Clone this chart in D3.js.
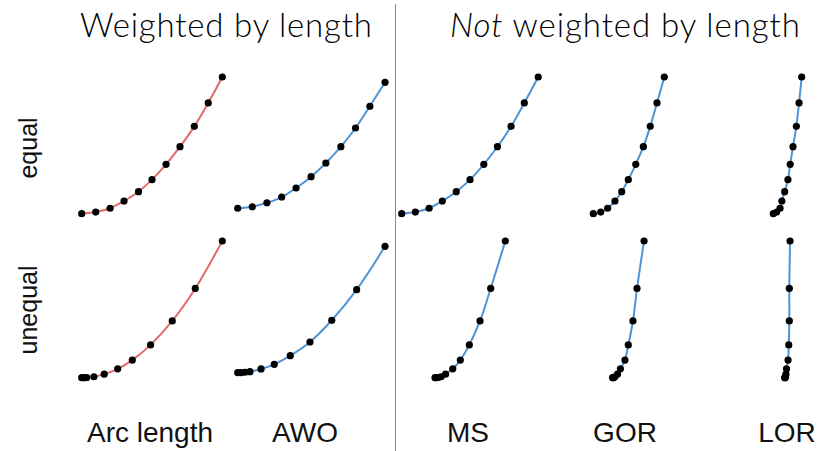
<!DOCTYPE html>
<html>
<head>
<meta charset="utf-8">
<script src="https://cdn.jsdelivr.net/npm/d3@7"></script>
<style>
  html, body { margin: 0; padding: 0; background: #fff; }
  svg { display: block; }
</style>
</head>
<body>
<svg id="chart" width="821" height="451"></svg>
<script>
// Parametrisations of the same curve, sampled 11 times per panel.
// x values are fractions of a column width, y values fractions of a row height.
const methods = ["Arc length", "AWO", "MS", "GOR", "LOR"];
const rowLabels = ["equal", "unequal"];
const groupTitles = ["Weighted by length", "weighted by length"];

// equal spacing
const equalY      = [0, 0.012, 0.040, 0.093, 0.161, 0.249, 0.361, 0.490, 0.639, 0.810, 1];
const awoEqualY   = [0.040, 0.051, 0.080, 0.122, 0.188, 0.271, 0.371, 0.490, 0.627, 0.786, 0.961];
const arcEqualX   = [0, 0.100, 0.202, 0.301, 0.404, 0.500, 0.600, 0.699, 0.801, 0.900, 1];
const awoEqualX   = [0, 0.104, 0.208, 0.313, 0.415, 0.522, 0.627, 0.734, 0.838, 0.940, 1.048];
const msEqualX    = [0, 0.097, 0.195, 0.289, 0.388, 0.486, 0.584, 0.681, 0.778, 0.872, 0.971];
const gorEqualX   = [0, 0.053, 0.102, 0.154, 0.202, 0.249, 0.302, 0.356, 0.405, 0.453, 0.505];
const lorEqualX   = [0, 0.024, 0.048, 0.061, 0.081, 0.104, 0.120, 0.140, 0.164, 0.183, 0.202];

// unequal spacing
const unequalY    = [0, 0.0003, 0.0015, 0.007, 0.026, 0.065, 0.129, 0.240, 0.415, 0.653, 1];
const awoUnequalY = [0.037, 0.037, 0.040, 0.044, 0.064, 0.098, 0.161, 0.261, 0.420, 0.644, 0.961];
const arcUnequalX = [0, 0.016, 0.036, 0.087, 0.160, 0.256, 0.360, 0.490, 0.644, 0.808, 1];
const awoUnequalX = [0, 0.023, 0.052, 0.087, 0.166, 0.260, 0.374, 0.514, 0.669, 0.846, 1.048];
const msUnequalX  = [0.237, 0.244, 0.258, 0.280, 0.312, 0.363, 0.417, 0.481, 0.557, 0.633, 0.737];
const gorUnequalX = [0.138, 0.140, 0.145, 0.154, 0.172, 0.193, 0.225, 0.249, 0.282, 0.311, 0.361];
const lorUnequalX = [0.083, 0.083, 0.083, 0.087, 0.090, 0.094, 0.105, 0.110, 0.114, 0.114, 0.119];

const panels = [
  { col: 0, row: 0, xs: arcEqualX,   ys: equalY,      color: "#e46a68" },
  { col: 1, row: 0, xs: awoEqualX,   ys: awoEqualY,   color: "#4f94d4" },
  { col: 2, row: 0, xs: msEqualX,    ys: equalY,      color: "#4f94d4" },
  { col: 3, row: 0, xs: gorEqualX,   ys: equalY,      color: "#4f94d4" },
  { col: 4, row: 0, xs: lorEqualX,   ys: equalY,      color: "#4f94d4" },
  { col: 0, row: 1, xs: arcUnequalX, ys: unequalY,    color: "#e46a68" },
  { col: 1, row: 1, xs: awoUnequalX, ys: awoUnequalY, color: "#4f94d4" },
  { col: 2, row: 1, xs: msUnequalX,  ys: unequalY,    color: "#4f94d4" },
  { col: 3, row: 1, xs: gorUnequalX, ys: unequalY,    color: "#4f94d4" },
  { col: 4, row: 1, xs: lorUnequalX, ys: unequalY,    color: "#4f94d4" }
];

// layout
const colLeft = [81.7, 237.7, 401.7, 593.3, 773.3];
const colWidth = 140.6;
const rowBottom = [213.7, 377.7];
const rowHeight = 136.7;
const labelCenters = [150, 305, 468, 625, 787];
const rowLabelCenters = [148, 310];

const svg = d3.select("#chart");

const xScales = colLeft.map(l => d3.scaleLinear().domain([0, 1]).range([l, l + colWidth]));
const yScales = rowBottom.map(b => d3.scaleLinear().domain([0, 1]).range([b, b - rowHeight]));

// divider between the two groups
svg.append("line")
  .attr("x1", 395.5).attr("x2", 395.5)
  .attr("y1", 4).attr("y2", 451)
  .attr("stroke", "#8c8c80").attr("stroke-width", 1);

// group titles
const titleFont = "Lato, 'Open Sans', sans-serif";
svg.append("text")
  .attr("x", 80).attr("y", 37)
  .attr("textLength", 292).attr("lengthAdjust", "spacing")
  .attr("font-family", titleFont).attr("font-weight", 300)
  .attr("font-size", 33).attr("fill", "#000")
  .text(groupTitles[0]);

const t2 = svg.append("text")
  .attr("x", 450).attr("y", 37)
  .attr("textLength", 350).attr("lengthAdjust", "spacing")
  .attr("font-family", titleFont).attr("font-weight", 300)
  .attr("font-size", 33).attr("fill", "#000");
t2.append("tspan").attr("font-style", "italic").text("Not");
t2.append("tspan").text(" " + groupTitles[1]);

// row labels
rowLabels.forEach((lab, i) => {
  svg.append("text")
    .attr("transform", `translate(37,${rowLabelCenters[i]}) rotate(-90)`)
    .attr("text-anchor", "middle")
    .attr("font-family", "'Liberation Sans', Arial, sans-serif")
    .attr("font-size", 25).attr("fill", "#111")
    .text(lab);
});

// method labels
methods.forEach((m, i) => {
  svg.append("text")
    .attr("x", labelCenters[i]).attr("y", 442)
    .attr("text-anchor", "middle")
    .attr("font-family", "'Liberation Sans', Arial, sans-serif")
    .attr("font-size", 28).attr("fill", "#111")
    .text(m);
});

// curves and sample points
const line = d3.line().curve(d3.curveCatmullRom.alpha(0.5));
panels.forEach(p => {
  const xs = xScales[p.col], ys = yScales[p.row];
  const pts = p.xs.map((x, i) => [xs(x), ys(p.ys[i])]);
  const g = svg.append("g");
  g.append("path")
    .attr("d", line(pts))
    .attr("fill", "none")
    .attr("stroke", p.color)
    .attr("stroke-width", 2);
  g.selectAll("circle").data(pts).join("circle")
    .attr("cx", d => d[0]).attr("cy", d => d[1])
    .attr("r", 3.6)
    .attr("fill", "#000");
});
</script>
</body>
</html>
